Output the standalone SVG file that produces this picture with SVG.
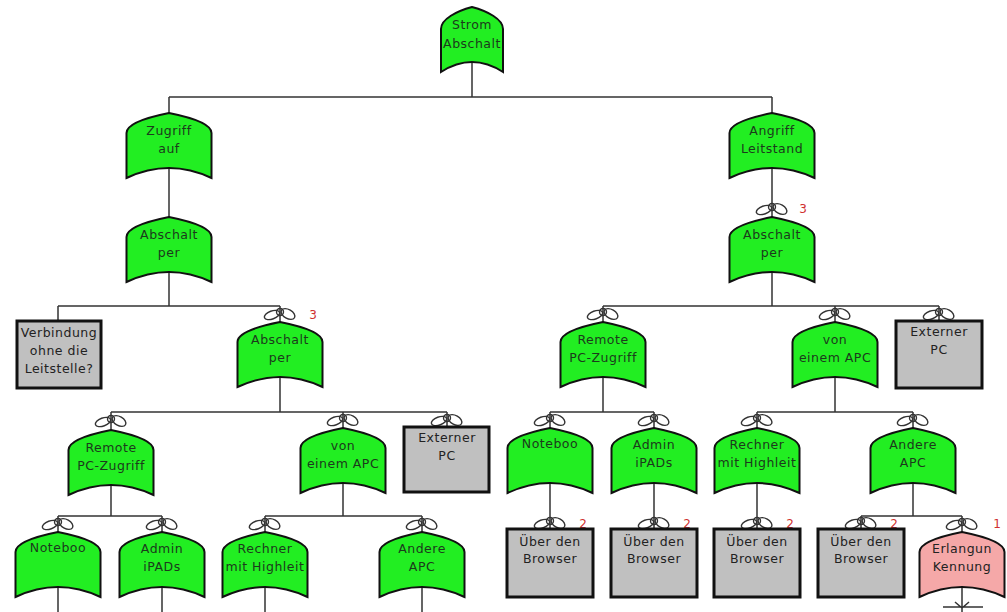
<svg xmlns="http://www.w3.org/2000/svg" xmlns:xlink="http://www.w3.org/1999/xlink" width="1007" height="612" viewBox="0 0 1007 612">
<style>
.g{fill:#22ee22;stroke:#111;stroke-width:2}
.p{fill:#f5a8a8;stroke:#111;stroke-width:2}
.b{fill:#c0c0c0;stroke:#111;stroke-width:3}
.t{font-family:"DejaVu Sans",sans-serif;font-size:12.5px;text-anchor:middle;fill:#1c3a1c;letter-spacing:0.5px}
.tb{fill:#222}
.c{stroke:#333;stroke-width:1.5;fill:none}
.lp{stroke:#333;stroke-width:1.4;fill:none}
.n{font-family:"DejaVu Sans",sans-serif;font-size:12px;fill:#d03030;text-anchor:middle}
</style>
<defs>
<path id="gate" d="M-42.5,65 L-42.5,20 C-42.5,10 -20,4 0,0 C20,4 42.5,10 42.5,20 L42.5,65 Q0,45 -42.5,65 Z"/>
<path id="gateN" d="M-31,65 L-31,22 C-31,12 -15,4 0,0 C15,4 31,12 31,22 L31,65 Q0,45 -31,65 Z"/>
<g id="loop">
<ellipse cx="-8" cy="1" rx="8" ry="4" transform="rotate(-20 -8 1)" class="lp"/>
<ellipse cx="8" cy="0" rx="7.5" ry="4.5" transform="rotate(30 8 0)" class="lp"/>
<circle cx="0" cy="-2" r="3.5" class="lp"/>
</g>
</defs>
<rect width="1007" height="612" fill="#fff"/>
<g id="connectors">
<path class="c" d="M472,62V97 M169,97H772"/>
<path class="c" d="M169,97V113 M169,168V217 M169,272V306 M58,306H280 M58,306V321 M280,306V322"/>
<path class="c" d="M280,377V412 M111,412H447 M111,412V430 M111,485V516 M58,516H162 M58,516V532 M162,516V532 M58,587V612 M162,587V612"/>
<path class="c" d="M343,412V428 M343,483V516 M265,516H422 M265,516V532 M422,516V532 M265,587V612 M422,587V612 M447,412V427"/>
<path class="c" d="M772,97V113 M772,168V217 M772,272V306 M603,306H939 M603,306V322 M835,306V322 M939,306V321"/>
<path class="c" d="M603,377V412 M550,412H654 M550,412V428 M654,412V428 M550,483V529 M654,483V529"/>
<path class="c" d="M835,377V412 M757,412H913 M757,412V428 M913,412V428 M757,483V529 M913,483V516 M861,516H962 M861,516V529 M962,516V532 M962,587V612 M943,607H983 M955,602L962,608L969,602"/>
</g>
<g id="n1"><use href="#gateN" x="472" y="7" class="g"/><text class="t" x="472" y="29">Strom</text><text class="t" x="472" y="48">Abschalt</text></g>
<g id="n2"><use href="#gate" x="169" y="113" class="g"/><text class="t" x="169" y="135">Zugriff</text><text class="t" x="169" y="153">auf</text></g>
<g id="n3"><use href="#gate" x="169" y="217" class="g"/><text class="t" x="169" y="239">Abschalt</text><text class="t" x="169" y="257">per</text></g>
<g id="n4"><rect class="b" x="17" y="321" width="84" height="67"/><text class="t tb" x="59" y="337">Verbindung</text><text class="t tb" x="59" y="355">ohne die</text><text class="t tb" x="59" y="373">Leitstelle?</text></g>
<g id="n5"><use href="#loop" x="280" y="314"/><text class="n" x="313" y="319">3</text><use href="#gate" x="280" y="322" class="g"/><text class="t" x="280" y="344">Abschalt</text><text class="t" x="280" y="362">per</text></g>
<g id="n6"><use href="#loop" x="111" y="421"/><use href="#gate" x="111" y="430" class="g"/><text class="t" x="111" y="452">Remote</text><text class="t" x="111" y="470">PC-Zugriff</text></g>
<g id="n7"><use href="#loop" x="58" y="524"/><use href="#gate" x="58" y="532" class="g"/><text class="t" x="58" y="552">Noteboo</text></g>
<g id="n8"><use href="#loop" x="162" y="524"/><use href="#gate" x="162" y="532" class="g"/><text class="t" x="162" y="553">Admin</text><text class="t" x="162" y="571">iPADs</text></g>
<g id="n9"><use href="#loop" x="343" y="420"/><use href="#gate" x="343" y="428" class="g"/><text class="t" x="343" y="450">von</text><text class="t" x="343" y="468">einem APC</text></g>
<g id="n10"><use href="#loop" x="447" y="420"/><rect class="b" x="404" y="427" width="85" height="65"/><text class="t tb" x="447" y="442">Externer</text><text class="t tb" x="447" y="460">PC</text></g>
<g id="n11"><use href="#loop" x="265" y="524"/><use href="#gate" x="265" y="532" class="g"/><text class="t" x="265" y="553">Rechner</text><text class="t" x="265" y="571">mit Highleit</text></g>
<g id="n12"><use href="#loop" x="422" y="524"/><use href="#gate" x="422" y="532" class="g"/><text class="t" x="422" y="553">Andere</text><text class="t" x="422" y="571">APC</text></g>
<g id="n13"><use href="#gate" x="772" y="113" class="g"/><text class="t" x="772" y="135">Angriff</text><text class="t" x="772" y="153">Leitstand</text></g>
<g id="n14"><use href="#loop" x="772" y="209"/><text class="n" x="803" y="213">3</text><use href="#gate" x="772" y="217" class="g"/><text class="t" x="772" y="239">Abschalt</text><text class="t" x="772" y="257">per</text></g>
<g id="n15"><use href="#loop" x="603" y="314"/><use href="#gate" x="603" y="322" class="g"/><text class="t" x="603" y="344">Remote</text><text class="t" x="603" y="362">PC-Zugriff</text></g>
<g id="n16"><use href="#loop" x="835" y="314"/><use href="#gate" x="835" y="322" class="g"/><text class="t" x="835" y="344">von</text><text class="t" x="835" y="362">einem APC</text></g>
<g id="n17"><use href="#loop" x="939" y="314"/><rect class="b" x="896" y="321" width="86" height="67"/><text class="t tb" x="939" y="336">Externer</text><text class="t tb" x="939" y="354">PC</text></g>
<g id="n18"><use href="#loop" x="550" y="420"/><use href="#gate" x="550" y="428" class="g"/><text class="t" x="550" y="448">Noteboo</text></g>
<g id="n19"><use href="#loop" x="654" y="420"/><use href="#gate" x="654" y="428" class="g"/><text class="t" x="654" y="449">Admin</text><text class="t" x="654" y="467">iPADs</text></g>
<g id="n20"><use href="#loop" x="757" y="420"/><use href="#gate" x="757" y="428" class="g"/><text class="t" x="757" y="449">Rechner</text><text class="t" x="757" y="467">mit Highleit</text></g>
<g id="n21"><use href="#loop" x="913" y="420"/><use href="#gate" x="913" y="428" class="g"/><text class="t" x="913" y="449">Andere</text><text class="t" x="913" y="467">APC</text></g>
<g id="n22"><use href="#loop" x="550" y="523"/><text class="n" x="583" y="528">2</text><rect class="b" x="507" y="529" width="86" height="68"/><text class="t tb" x="550" y="546">Über den</text><text class="t tb" x="550" y="563">Browser</text></g>
<g id="n23"><use href="#loop" x="654" y="523"/><text class="n" x="687" y="528">2</text><rect class="b" x="611" y="529" width="86" height="68"/><text class="t tb" x="654" y="546">Über den</text><text class="t tb" x="654" y="563">Browser</text></g>
<g id="n24"><use href="#loop" x="757" y="523"/><text class="n" x="790" y="528">2</text><rect class="b" x="714" y="529" width="86" height="68"/><text class="t tb" x="757" y="546">Über den</text><text class="t tb" x="757" y="563">Browser</text></g>
<g id="n25"><use href="#loop" x="861" y="523"/><text class="n" x="894" y="528">2</text><rect class="b" x="818" y="529" width="86" height="68"/><text class="t tb" x="861" y="546">Über den</text><text class="t tb" x="861" y="563">Browser</text></g>
<g id="n26"><use href="#loop" x="962" y="524"/><text class="n" x="997" y="528">1</text><use href="#gate" x="962" y="532" class="p"/><text class="t tb" x="962" y="553">Erlangun</text><text class="t tb" x="962" y="571">Kennung</text></g>
</svg>
